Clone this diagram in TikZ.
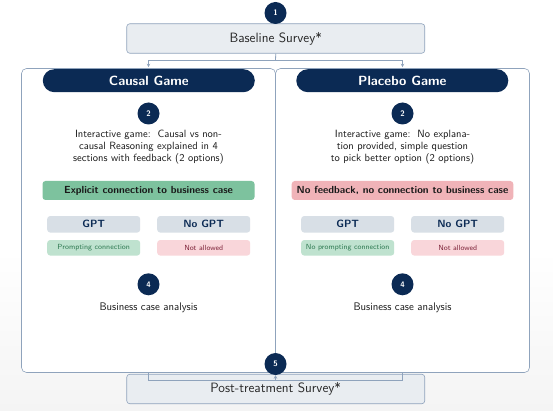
\documentclass[tikz,border=0pt]{standalone}
\usetikzlibrary{shapes.misc,arrows.meta}
\definecolor{navy}{HTML}{0B2A54}
\definecolor{bord}{HTML}{8FA3BC}
\definecolor{boxfill}{HTML}{E9EDF1}
\definecolor{gptfill}{HTML}{D8DFE6}
\definecolor{greenstrong}{HTML}{7DC29E}
\definecolor{greenlight}{HTML}{BFE2CF}
\definecolor{greentext}{HTML}{2F7A52}
\definecolor{redstrong}{HTML}{F0B3B8}
\definecolor{redlight}{HTML}{F9D6DA}
\definecolor{redtext}{HTML}{7D2238}
\definecolor{bgbottom}{HTML}{F4F4F4}
\tikzset{
  numc/.style={circle,fill=navy,text=white,font=\sffamily\bfseries\fontsize{8}{9}\selectfont,minimum size=22pt,inner sep=0pt},
  survey/.style={rectangle,rounded corners=3pt,fill=boxfill,draw=bord,line width=0.6pt,minimum width=298pt,minimum height=29.5pt,font=\sffamily\fontsize{13.5}{15}\selectfont,text=black!85},
  panel/.style={rectangle,rounded corners=5pt,fill=white,draw=bord,line width=0.6pt,minimum width=254pt,minimum height=304pt,inner sep=0pt},
  banner/.style={rounded rectangle,fill=navy,text=white,font=\sffamily\bfseries\fontsize{13.3}{15}\selectfont,minimum width=212pt,minimum height=23pt,inner sep=0pt},
  body/.style={align=center,font=\sffamily\fontsize{10.5}{12}\selectfont,text=black!90},
  bodyb/.style={align=center,font=\sffamily\fontsize{11}{12}\selectfont,text=black!90},
  keybox/.style={rectangle,rounded corners=3pt,minimum width=212pt,minimum height=19pt,inner xsep=5pt,inner ysep=0pt,font=\sffamily\bfseries\fontsize{10.3}{12}\selectfont,text=black!90},
  gptbox/.style={rectangle,rounded corners=3pt,fill=gptfill,minimum width=93pt,minimum height=16.5pt,inner sep=0pt,font=\sffamily\bfseries\fontsize{10.5}{12}\selectfont,text=navy},
  smallbox/.style={rectangle,rounded corners=3pt,minimum width=93pt,minimum height=15.5pt,inner sep=0pt,font=\sffamily\fontsize{7.4}{9}\selectfont},
  conn/.style={draw=bord,line width=0.8pt},
  tip/.style={-{Stealth[length=3.5pt,width=3.5pt]}}
}
\begin{document}
\begin{tikzpicture}[x=1pt,y=-1pt]
\useasboundingbox (0,0) rectangle (553,411);
\fill[white] (0,0) rectangle (553,411);
\shade[top color=white,bottom color=bgbottom] (0,250) rectangle (553,411);

% panels
\node[panel] (lp) at (148.5,220.5) {};
\node[panel] (rp) at (402.5,220.5) {};

% baseline survey
\node[survey] (base) at (275.75,38.5) {Baseline Survey*};
\node[numc] (c1) at (275.5,13) {1};
\coordinate (split) at (275.5,60.5);
\draw[conn,tip,shorten >=1pt] (base.south) -- (split) -| (lp.north);
\draw[conn,tip,shorten >=1pt] (split) -| (rp.north);

% banners
\node[banner] (lb) at (148.8,80.7) {Causal Game};
\node[banner] (rb) at (402.3,80.7) {Placebo Game};

% left content
\node[numc] (l2) at (148.5,113.5) {2};
\node[body] (ltext) at (148.5,147) {Interactive game:\ \ Causal vs non-\\causal Reasoning explained in 4\\sections with feedback (2 options)};
\node[keybox,fill=greenstrong] (lkey) at (148.5,190.5) {Explicit connection to business case};
\node[gptbox] (lgpt) at (93.7,224.3) {GPT};
\node[gptbox] (lnogpt) at (203.7,224.3) {No GPT};
\node[smallbox,fill=greenlight,text=greentext] (lprompt) at (93.7,247.8) {Prompting connection};
\node[smallbox,fill=redlight,text=redtext] (lnot) at (203.7,247.8) {Not allowed};
\node[numc] (l4) at (148.5,284.3) {4};
\node[bodyb] (lbus) at (148.5,308) {Business case analysis};

% right content
\node[numc] (r2) at (402.5,113.5) {2};
\node[body] (rtext) at (402.5,147) {Interactive game:\ \ No explana-\\tion provided, simple question\\to pick better option (2 options)};
\node[keybox,fill=redstrong] (rkey) at (402.5,190.5) {No feedback, no connection to business case};
\node[gptbox] (rgpt) at (347.7,224.3) {GPT};
\node[gptbox] (rnogpt) at (457.7,224.3) {No GPT};
\node[smallbox,fill=greenlight,text=greentext] (rprompt) at (347.7,247.8) {No prompting connection};
\node[smallbox,fill=redlight,text=redtext] (rnot) at (457.7,247.8) {Not allowed};
\node[numc] (r4) at (402.5,284.3) {4};
\node[bodyb] (rbus) at (402.5,308) {Business case analysis};

% post-treatment survey
\node[survey] (post) at (275.75,389) {Post-treatment Survey*};
\coordinate (merge) at (275.5,380.5);
\draw[conn] (lp.south) -- ++(0,8) -| (rp.south);
\node[numc] (c5) at (275.5,364) {5};
\draw[conn,tip] (merge) -- (c5.south);
\end{tikzpicture}
\end{document}
